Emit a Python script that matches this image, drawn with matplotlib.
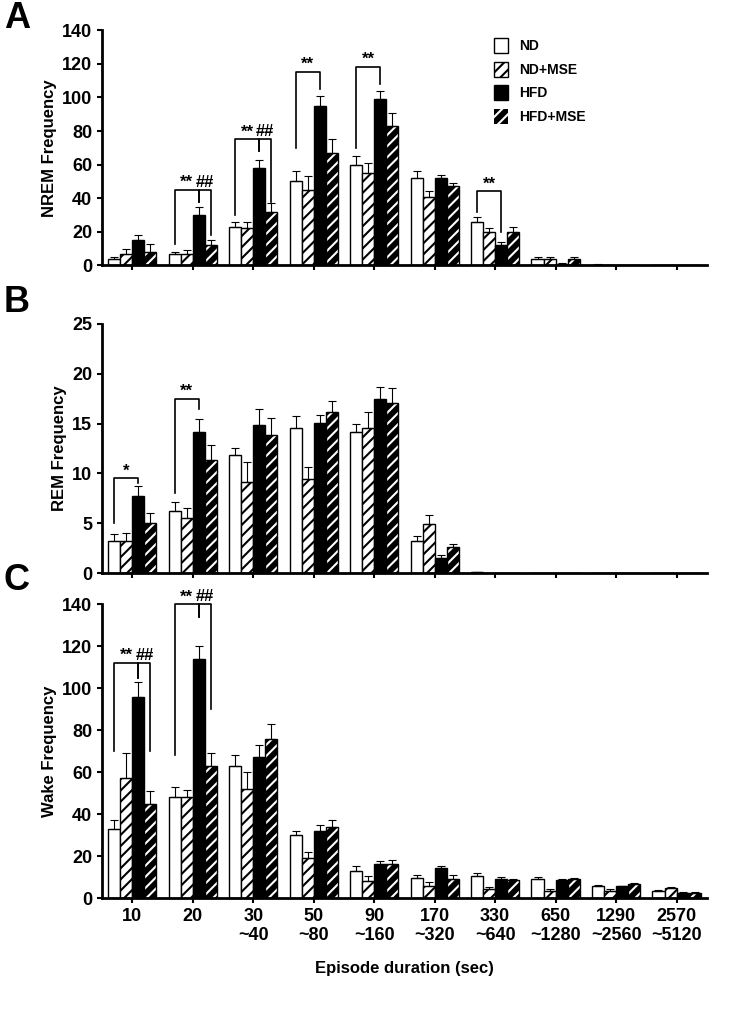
import numpy as np
import matplotlib.pyplot as plt

plt.rcParams['font.family'] = 'Liberation Sans'
plt.rcParams['font.weight'] = 'bold'
plt.rcParams['hatch.linewidth'] = 1.5

groups = ['10', '20', '30\n~40', '50\n~80', '90\n~160', '170\n~320',
          '330\n~640', '650\n~1280', '1290\n~2560', '2570\n~5120']
series = ['ND', 'ND+MSE', 'HFD', 'HFD+MSE']

nrem_nd = [4, 7, 23, 50, 60, 52, 26, 4, 0.5, 0]
nrem_nd_err = [1, 1, 3, 6, 5, 4, 3, 1, 0.3, 0]
nrem_ndmse = [7, 7, 22, 45, 55, 41, 20, 4, 0.3, 0]
nrem_ndmse_err = [3, 2, 4, 8, 6, 3, 2, 1, 0.2, 0]
nrem_hfd = [15, 30, 58, 95, 99, 52, 12, 1, 0.2, 0]
nrem_hfd_err = [3, 5, 5, 6, 5, 2, 2, 0.5, 0.1, 0]
nrem_hfdmse = [8, 12, 32, 67, 83, 47, 20, 4, 0.2, 0]
nrem_hfdmse_err = [5, 3, 5, 8, 8, 2, 3, 1, 0.1, 0]

rem_nd = [3.2, 6.2, 11.8, 14.6, 14.2, 3.2, 0.1, 0, 0, 0]
rem_nd_err = [0.7, 0.9, 0.8, 1.2, 0.8, 0.5, 0.05, 0, 0, 0]
rem_ndmse = [3.2, 5.5, 9.1, 9.4, 14.6, 4.9, 0, 0, 0, 0]
rem_ndmse_err = [0.8, 1.0, 2.0, 1.2, 1.6, 0.9, 0, 0, 0, 0]
rem_hfd = [7.7, 14.2, 14.9, 15.1, 17.5, 1.5, 0, 0, 0, 0]
rem_hfd_err = [1.0, 1.3, 1.6, 0.8, 1.2, 0.3, 0, 0, 0, 0]
rem_hfdmse = [5.0, 11.3, 13.9, 16.2, 17.1, 2.6, 0, 0, 0, 0]
rem_hfdmse_err = [1.0, 1.6, 1.7, 1.1, 1.5, 0.3, 0, 0, 0, 0]

wake_nd = [33, 48, 63, 30, 13, 9.5, 10.5, 9, 5.5, 3.5]
wake_nd_err = [4, 5, 5, 2, 2.5, 1.5, 1.2, 1, 0.5, 0.5]
wake_ndmse = [57, 48, 52, 19, 8, 5.5, 4.5, 3.5, 3.5, 5]
wake_ndmse_err = [12, 3.5, 8, 3, 2.5, 2, 0.8, 0.8, 0.8, 0.4]
wake_hfd = [96, 114, 67, 32, 16, 14.5, 9, 8.5, 5.5, 2.5]
wake_hfd_err = [7, 6, 6, 3, 1.5, 1, 0.8, 0.8, 0.4, 0.3]
wake_hfdmse = [45, 63, 76, 34, 16, 9, 8.5, 9, 6.5, 2.5]
wake_hfdmse_err = [6, 6, 7, 3, 2, 2, 0.5, 0.6, 0.8, 0.3]

fig = plt.figure(figsize=(7.56, 10.09), dpi=100)
axA = fig.add_axes([0.135, 0.737, 0.80, 0.233])
axB = fig.add_axes([0.135, 0.432, 0.80, 0.247])
axC = fig.add_axes([0.135, 0.110, 0.80, 0.291])

w = 0.2
offs = np.array([-1.5, -0.5, 0.5, 1.5]) * w
x = np.arange(len(groups))


def draw(ax, data, ymax, step, label):
    styles = [dict(color='white'), dict(color='white', hatch='///'),
              dict(color='black'), dict(color='black', hatch='///')]
    for k, (vals, errs) in enumerate(data):
        st = styles[k]
        if k == 3:
            ax.bar(x + offs[k], vals, w, color='black', edgecolor='white',
                   hatch='///', linewidth=0, label=series[k])
            ax.bar(x + offs[k], vals, w, fill=False, edgecolor='black', linewidth=1)
        else:
            ax.bar(x + offs[k], vals, w, color=st['color'], edgecolor='black',
                   hatch=st.get('hatch'), linewidth=1, label=series[k])
        ax.errorbar(x + offs[k], vals, yerr=[np.zeros(len(vals)), errs], fmt='none',
                    ecolor='black', elinewidth=0.8, capsize=3, capthick=0.8)
    ax.set_xlim(-0.5, 9.5)
    ax.set_ylim(0, ymax)
    ax.set_yticks(np.arange(0, ymax + 1, step))
    ax.set_ylabel(label, fontsize=12, fontweight='bold')
    ax.tick_params(labelsize=13, width=1.5)
    for s in ['top', 'right']:
        ax.spines[s].set_visible(False)
    for s in ['left', 'bottom']:
        ax.spines[s].set_linewidth(2)
    ax.set_xticks(x)


def bracket(ax, x1, x2, ytop, y1, y2, txt):
    ax.plot([x1, x1, x2, x2], [y1, ytop, ytop, y2], color='black', lw=1.2, clip_on=False)
    ax.text((x1 + x2) / 2, ytop, txt, ha='center', va='bottom', fontsize=12,
            fontweight='bold', clip_on=False)


draw(axA, [(nrem_nd, nrem_nd_err), (nrem_ndmse, nrem_ndmse_err),
           (nrem_hfd, nrem_hfd_err), (nrem_hfdmse, nrem_hfdmse_err)], 140, 20, 'NREM Frequency')
draw(axB, [(rem_nd, rem_nd_err), (rem_ndmse, rem_ndmse_err),
           (rem_hfd, rem_hfd_err), (rem_hfdmse, rem_hfdmse_err)], 25, 5, 'REM Frequency')
draw(axC, [(wake_nd, wake_nd_err), (wake_ndmse, wake_ndmse_err),
           (wake_hfd, wake_hfd_err), (wake_hfdmse, wake_hfdmse_err)], 140, 20, 'Wake Frequency')
axA.set_xticklabels([])
axB.set_xticklabels([])
axC.set_xticklabels(groups)
axC.set_xlabel('Episode duration (sec)', fontsize=12, fontweight='bold', labelpad=12)

axA.legend(loc='upper right', bbox_to_anchor=(0.82, 1.02), frameon=False, fontsize=10,
           handlelength=1.0, handleheight=1.3, labelspacing=0.6)

# significance brackets
bracket(axA, 1 + offs[0], 1 + offs[2], 45, 13, 38, '**')
bracket(axA, 1 + offs[2], 1 + offs[3], 45, 38, 18, '##')
bracket(axA, 2 + offs[0], 2 + offs[2], 75, 30, 68, '**')
bracket(axA, 2 + offs[2], 2 + offs[3], 75, 68, 38, '##')
bracket(axA, 3 + offs[0], 3 + offs[2], 115, 70, 105, '**')
bracket(axA, 4 + offs[0], 4 + offs[2], 118, 70, 108, '**')
bracket(axA, 6 + offs[0], 6 + offs[2], 44, 32, 20, '**')
bracket(axB, 0 + offs[0], 0 + offs[2], 9.5, 5, 9, '*')
bracket(axB, 1 + offs[0], 1 + offs[2], 17.5, 8, 16.5, '**')
bracket(axC, 0 + offs[0], 0 + offs[2], 112, 70, 105, '**')
bracket(axC, 0 + offs[2], 0 + offs[3], 112, 105, 70, '##')
bracket(axC, 1 + offs[0], 1 + offs[2], 140, 68, 134, '**')
bracket(axC, 1 + offs[2], 1 + offs[3], 140, 134, 90, '##')

for lab, yy in [('A', 0.982), ('B', 0.700), ('C', 0.425)]:
    fig.text(0.005, yy, lab, fontsize=26, fontweight='bold', va='center')

fig.savefig('out.png', dpi=100)
